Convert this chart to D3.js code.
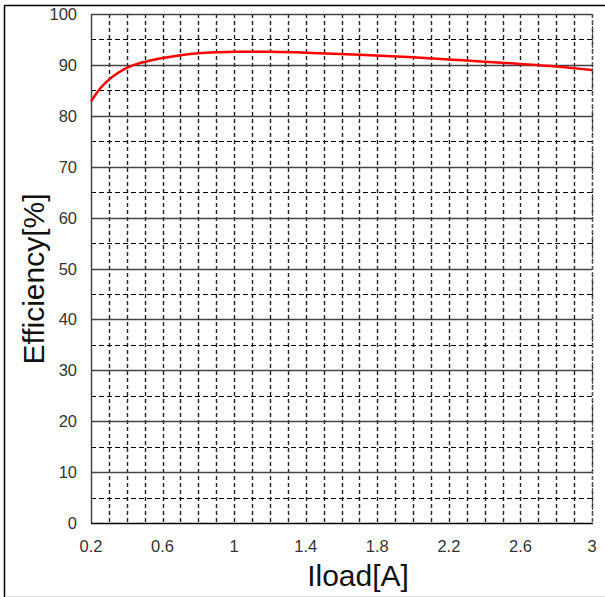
<!DOCTYPE html>
<html><head><meta charset="utf-8">
<script src="https://cdn.jsdelivr.net/npm/d3@7"></script>
<style>body{margin:0;background:#fff;}svg{display:block;}</style>
</head><body>
<script>
const loadCurrent = [0.2,0.25,0.3,0.35,0.4,0.45,0.5,0.6,0.7,0.8,0.9,1.0,1.2,1.4,1.7,2.0,2.3,2.6,2.8,3.0];
const efficiency  = [82.8,85.3,87.1,88.4,89.4,90.1,90.6,91.35,91.9,92.3,92.5,92.6,92.6,92.4,92.0,91.5,90.85,90.2,89.7,89.0];
const xTickLabels = [0.2,0.6,1.0,1.4,1.8,2.2,2.6,3.0];
const yTickLabels = [0,10,20,30,40,50,60,70,80,90,100];
const xMinorTicks = d3.range(2,31).map(d=>d/10);
const yMinorTicks = [5,15,25,35,45,55,65,75,85,95];

const W=605,H=597;
const m={l:91,r:592,t:14,b:523};
const svg=d3.select("body").append("svg").attr("width",W).attr("height",H);
const x=d3.scaleLinear().domain([0.2,3]).range([m.l,m.r]);
const y=d3.scaleLinear().domain([0,100]).range([m.b,m.t]);

// outer frame
svg.append("line").attr("x1",4.5).attr("x2",605).attr("y1",5.5).attr("y2",5.5).attr("stroke","#000").attr("stroke-width",1.5);
svg.append("line").attr("x1",4.5).attr("x2",4.5).attr("y1",5).attr("y2",597).attr("stroke","#000").attr("stroke-width",1.5);
svg.append("line").attr("x1",5).attr("x2",605).attr("y1",596.5).attr("y2",596.5).attr("stroke","#ddd").attr("stroke-width",1);

const g=svg.append("g");
// vertical dashed grid
g.selectAll(".vg").data(xMinorTicks.filter(d=>d>0.2001)).enter().append("line")
 .attr("x1",d=>Math.round(x(d))+0.5).attr("x2",d=>Math.round(x(d))+0.5)
 .attr("y1",m.t).attr("y2",m.b).attr("stroke","#222").attr("stroke-width",1.4).attr("stroke-dasharray","4,3");
// horizontal dashed minor
g.selectAll(".hm").data(yMinorTicks).enter().append("line")
 .attr("x1",m.l).attr("x2",m.r).attr("y1",d=>Math.round(y(d))+0.5).attr("y2",d=>Math.round(y(d))+0.5)
 .attr("stroke","#000").attr("stroke-width",1).attr("stroke-dasharray","5,3");
// horizontal major solid
g.selectAll(".hM").data(yTickLabels.filter(d=>d>0)).enter().append("line")
 .attr("x1",m.l).attr("x2",m.r).attr("y1",d=>Math.round(y(d))+0.5).attr("y2",d=>Math.round(y(d))+0.5)
 .attr("stroke","#444").attr("stroke-width",1.3);
// right edge
g.append("line").attr("x1",m.r+0.5).attr("x2",m.r+0.5).attr("y1",m.t).attr("y2",m.b).attr("stroke","#555").attr("stroke-width",1.2).attr("stroke-dasharray","4,2");
// axes lines
g.append("line").attr("x1",m.l+0.5).attr("x2",m.l+0.5).attr("y1",m.t).attr("y2",m.b).attr("stroke","#444").attr("stroke-width",1.5);
g.append("line").attr("x1",m.l).attr("x2",m.r+1).attr("y1",m.b+0.5).attr("y2",m.b+0.5).attr("stroke","#000").attr("stroke-width",1.6);

// tick labels
svg.selectAll(".yl").data(yTickLabels).enter().append("text")
 .attr("x",77).attr("y",d=>y(d)+6).attr("text-anchor","end")
 .attr("font-family","'Liberation Sans',Arial,sans-serif").attr("font-size",16.5).attr("fill","#333")
 .text(d=>d);
svg.selectAll(".xl").data(xTickLabels).enter().append("text")
 .attr("x",d=>x(d)).attr("y",552).attr("text-anchor","middle")
 .attr("font-family","'Liberation Sans',Arial,sans-serif").attr("font-size",16.5).attr("fill","#333")
 .text(d=>d3.format("~g")(d));

// axis titles
svg.append("text").attr("transform","translate(44,279) rotate(-90)").attr("text-anchor","middle")
 .attr("font-family","'Liberation Sans',Arial,sans-serif").attr("font-size",30).attr("fill","#111")
 .text("Efficiency[%]");
svg.append("text").attr("x",358).attr("y",586).attr("text-anchor","middle")
 .attr("font-family","'Liberation Sans',Arial,sans-serif").attr("font-size",30).attr("fill","#111")
 .text("Iload[A]");

// curve
const line=d3.line().x((d,i)=>x(loadCurrent[i])).y(d=>y(d)).curve(d3.curveMonotoneX);
svg.append("path").datum(efficiency).attr("d",line).attr("fill","none").attr("stroke","#ff0000").attr("stroke-width",2.5);
</script>
</body></html>
